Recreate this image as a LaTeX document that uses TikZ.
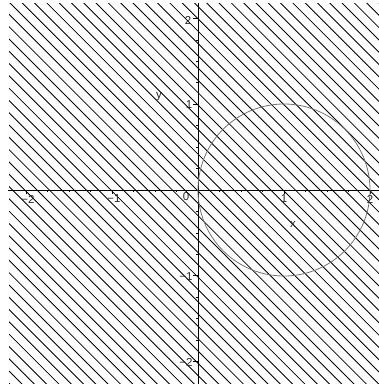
\documentclass[tikz,border=0pt]{standalone}
\usepackage{fontspec}
\setmainfont{Liberation Sans}
\begin{document}
\begin{tikzpicture}[x=1pt,y=-1pt,
  hatch/.style={line width=0.85pt,black},
  axisline/.style={line width=0.9pt,black},
  tickmark/.style={line width=0.7pt,black},
  curve/.style={line width=0.8pt,black!55},
  lbl/.style={inner sep=0pt,text=black!85,font=\fontsize{11.5}{11.5}\selectfont}]
\useasboundingbox (0,0) rectangle (379,384);
% hatching
\begin{scope}
\clip (9,3) rectangle (379,384);
\foreach \k in {-32,...,32}{
  \pgfmathsetmacro{\c}{-7+12.3*\k}
  \draw[hatch] (-10,{-10+\c}) -- (400,{400+\c});
}
\end{scope}
% axes
\coordinate (xleft) at (8,190);
\coordinate (xright) at (379,190);
\coordinate (ytop) at (198,3);
\coordinate (ybot) at (198,384);
\draw[axisline] (xleft) -- (xright);
\draw[axisline] (ytop) -- (ybot);
% ticks
\foreach \k in {-8,...,8}{
  \draw[tickmark] ({198+21.5*\k},190) -- ({198+21.5*\k},192);
  \draw[tickmark] (198,{190+21.45*\k}) -- (196,{190+21.45*\k});
}
\foreach \k in {-2,-1,1,2}{
  \draw[tickmark] ({198+86*\k},190) -- ({198+86*\k},194);
  \draw[tickmark] (198,{190-85.8*\k}) -- (193,{190-85.8*\k});
}
% circle
\coordinate (cc) at (284,190);
\draw[curve] (cc) circle[radius=86];
% labels
\node[lbl] (xm2) at (28,199) {\textminus2};
\node[lbl] (xm1) at (114,199) {\textminus1};
\node[lbl] (x0) at (186,197) {0};
\node[lbl] (x1) at (284,199) {1};
\node[lbl] (x2) at (370,199) {2};
\node[lbl] (ym2) at (186,362) {\textminus2};
\node[lbl] (ym1) at (186,277) {\textminus1};
\node[lbl] (y1) at (189,105) {1};
\node[lbl] (y2) at (188,20) {2};
\node[lbl] (xlab) at (293,224) {x};
\node[lbl] (ylab) at (159,97) {y};
\end{tikzpicture}
\end{document}
